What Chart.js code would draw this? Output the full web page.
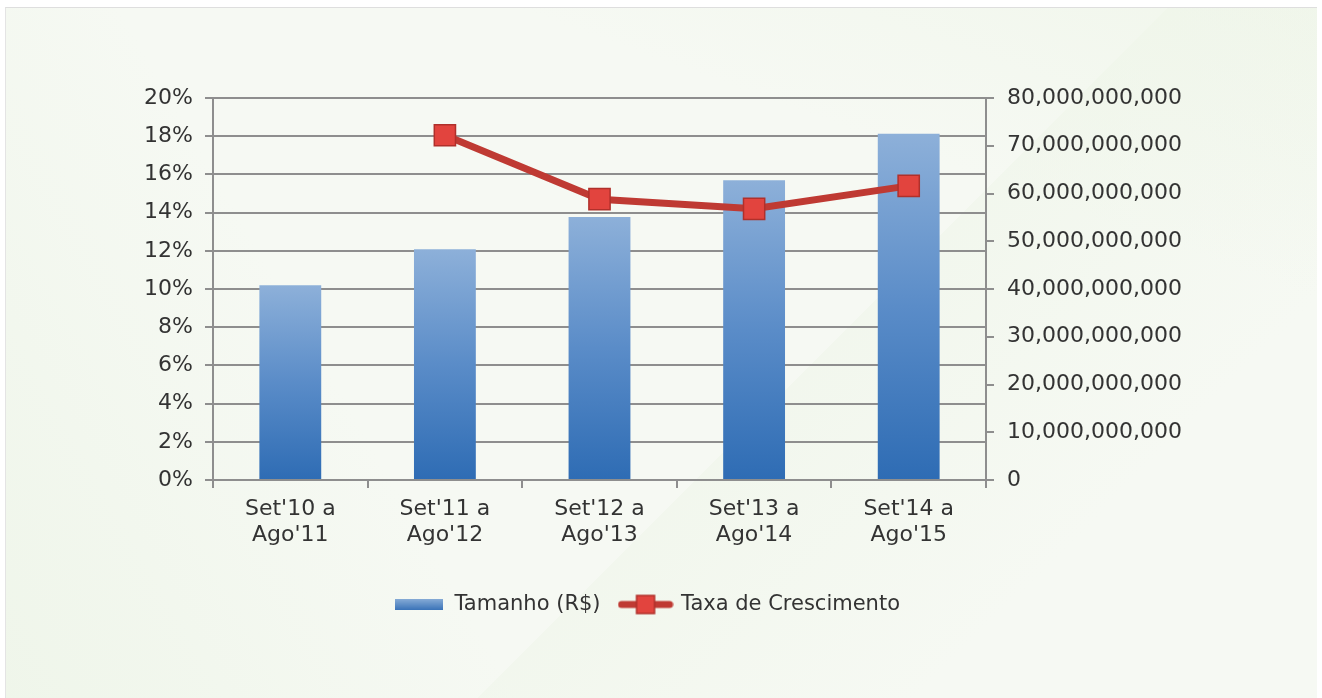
<!DOCTYPE html>
<html>
<head>
<meta charset="utf-8">
<script src="https://cdn.jsdelivr.net/npm/chart.js@4"></script>
<style>
  html, body { margin: 0; padding: 0; background: #fff; }
  #frame {
    position: absolute; left: 5px; top: 7px; width: 1311px; height: 691px;
    border-top: 1px solid #dedede; border-left: 1px solid #e4e4e4;
    background:
      linear-gradient(135deg, rgba(255,255,255,0) 58%, rgba(238,245,232,0.5) 58%, rgba(238,245,232,0) 80%),
      linear-gradient(60deg, rgba(232,242,225,0.5) 0%, rgba(255,255,255,0) 30%),
      linear-gradient(200deg, rgba(236,244,229,0.5) 0%, rgba(250,252,248,0) 25%),
      #f6f9f3;
  }
  #wrap { position: absolute; left: 0; top: 0; width: 1322px; height: 698px; }
</style>
</head>
<body>
<div id="frame"></div>
<div id="wrap"><canvas id="myChart" width="1322" height="698"></canvas></div>
<script>
const periodos = [["Set'10 a", "Ago'11"], ["Set'11 a", "Ago'12"], ["Set'12 a", "Ago'13"], ["Set'13 a", "Ago'14"], ["Set'14 a", "Ago'15"]];
const tamanho = [40.8e9, 48.3e9, 55.1e9, 62.8e9, 72.5e9];
const crescimento = [null, 18.05, 14.7, 14.2, 15.4];
const percentTicks = [0, 2, 4, 6, 8, 10, 12, 14, 16, 18, 20];

const gridGray = '#8e8e8e';
const textColor = '#333333';
const fontFam = "'DejaVu Sans', Verdana, sans-serif";

// legend swatches
const blueBox = document.createElement('canvas');
blueBox.width = 48; blueBox.height = 11;
let bctx = blueBox.getContext('2d');
let bg = bctx.createLinearGradient(0, 0, 0, 11);
bg.addColorStop(0, '#86abd6');
bg.addColorStop(1, '#3a73b8');
bctx.fillStyle = bg;
bctx.fillRect(0, 0, 48, 11);

const redBox = document.createElement('canvas');
redBox.width = 56; redBox.height = 22;
let rctx = redBox.getContext('2d');
rctx.strokeStyle = '#bf3a33';
rctx.lineWidth = 7;
rctx.lineCap = 'round';
rctx.beginPath(); rctx.moveTo(4, 11); rctx.lineTo(52, 11); rctx.stroke();
rctx.fillStyle = '#e2443e';
rctx.strokeStyle = '#b0302b';
rctx.lineWidth = 1.5;
rctx.fillRect(19, 2, 18, 18);
rctx.strokeRect(19, 2, 18, 18);

function barGradient(ctx) {
  const chart = ctx.chart;
  if (!chart.chartArea || !chart.scales.y2) return '#5a8bc7';
  const s = chart.scales.y2;
  const top = s.getPixelForValue(ctx.raw);
  const bottom = s.getPixelForValue(0);
  const g = chart.ctx.createLinearGradient(0, top, 0, bottom);
  g.addColorStop(0, '#8db0d9');
  g.addColorStop(0.5, '#5a8cc8');
  g.addColorStop(1, '#2e6cb4');
  return g;
}

new Chart('myChart', {
  data: {
    labels: periodos,
    datasets: [
      {
        type: 'bar',
        label: 'Tamanho (R$)',
        data: tamanho,
        yAxisID: 'y2',
        backgroundColor: barGradient,
        barPercentage: 0.4,
        categoryPercentage: 1,
        order: 1
      },
      {
        type: 'line',
        label: 'Taxa de Crescimento',
        data: crescimento,
        yAxisID: 'y',
        borderColor: '#bf3a33',
        borderWidth: 7,
        pointStyle: 'rect',
        pointRadius: 15,
        pointBackgroundColor: '#e2443e',
        pointBorderColor: '#b0302b',
        pointBorderWidth: 1.5,
        spanGaps: false,
        order: 0
      }
    ]
  },
  options: {
    responsive: false,
    animation: false,
    devicePixelRatio: 1,
    layout: { padding: { top: 98, left: 0, right: 28, bottom: 73 } },
    plugins: {
      tooltip: { enabled: false },
      legend: {
        position: 'bottom',
        labels: {
          usePointStyle: true,
          pointStyleWidth: 50,
          padding: 20,
          color: textColor,
          font: { family: fontFam, size: 21 },
          generateLabels: () => [
            { text: 'Tamanho (R$)', pointStyle: blueBox, datasetIndex: 0, fontColor: textColor },
            { text: 'Taxa de Crescimento', pointStyle: redBox, datasetIndex: 1, fontColor: textColor }
          ]
        }
      }
    },
    scales: {
      x: {
        grid: { offset: true, drawOnChartArea: false, drawTicks: true, tickLength: 8, color: gridGray, lineWidth: 2 },
        border: { color: gridGray, width: 2 },
        ticks: { color: textColor, font: { family: fontFam, size: 22, lineHeight: 1.15 }, padding: 9, maxRotation: 0 },
        afterFit: (s) => { s.height = 94; }
      },
      y: {
        position: 'left',
        min: 0, max: 20,
        afterBuildTicks: (s) => { s.ticks = percentTicks.map(v => ({ value: v })); },
        grid: { color: gridGray, lineWidth: 2, tickLength: 8 },
        border: { color: gridGray, width: 2 },
        ticks: { color: textColor, font: { family: fontFam, size: 22 }, padding: 12, callback: (v) => v + '%' },
        afterFit: (s) => { s.width = 213; }
      },
      y2: {
        position: 'right',
        min: 0, max: 80e9,
        ticks: { stepSize: 10e9, color: textColor, font: { family: fontFam, size: 22 }, padding: 13,
                 callback: (v) => Number(v).toLocaleString('en-US') },
        grid: { drawOnChartArea: false, color: gridGray, lineWidth: 2, tickLength: 8 },
        border: { color: gridGray, width: 2 },
        afterFit: (s) => { s.width = 308; }
      }
    }
  }
});
</script>
</body>
</html>
